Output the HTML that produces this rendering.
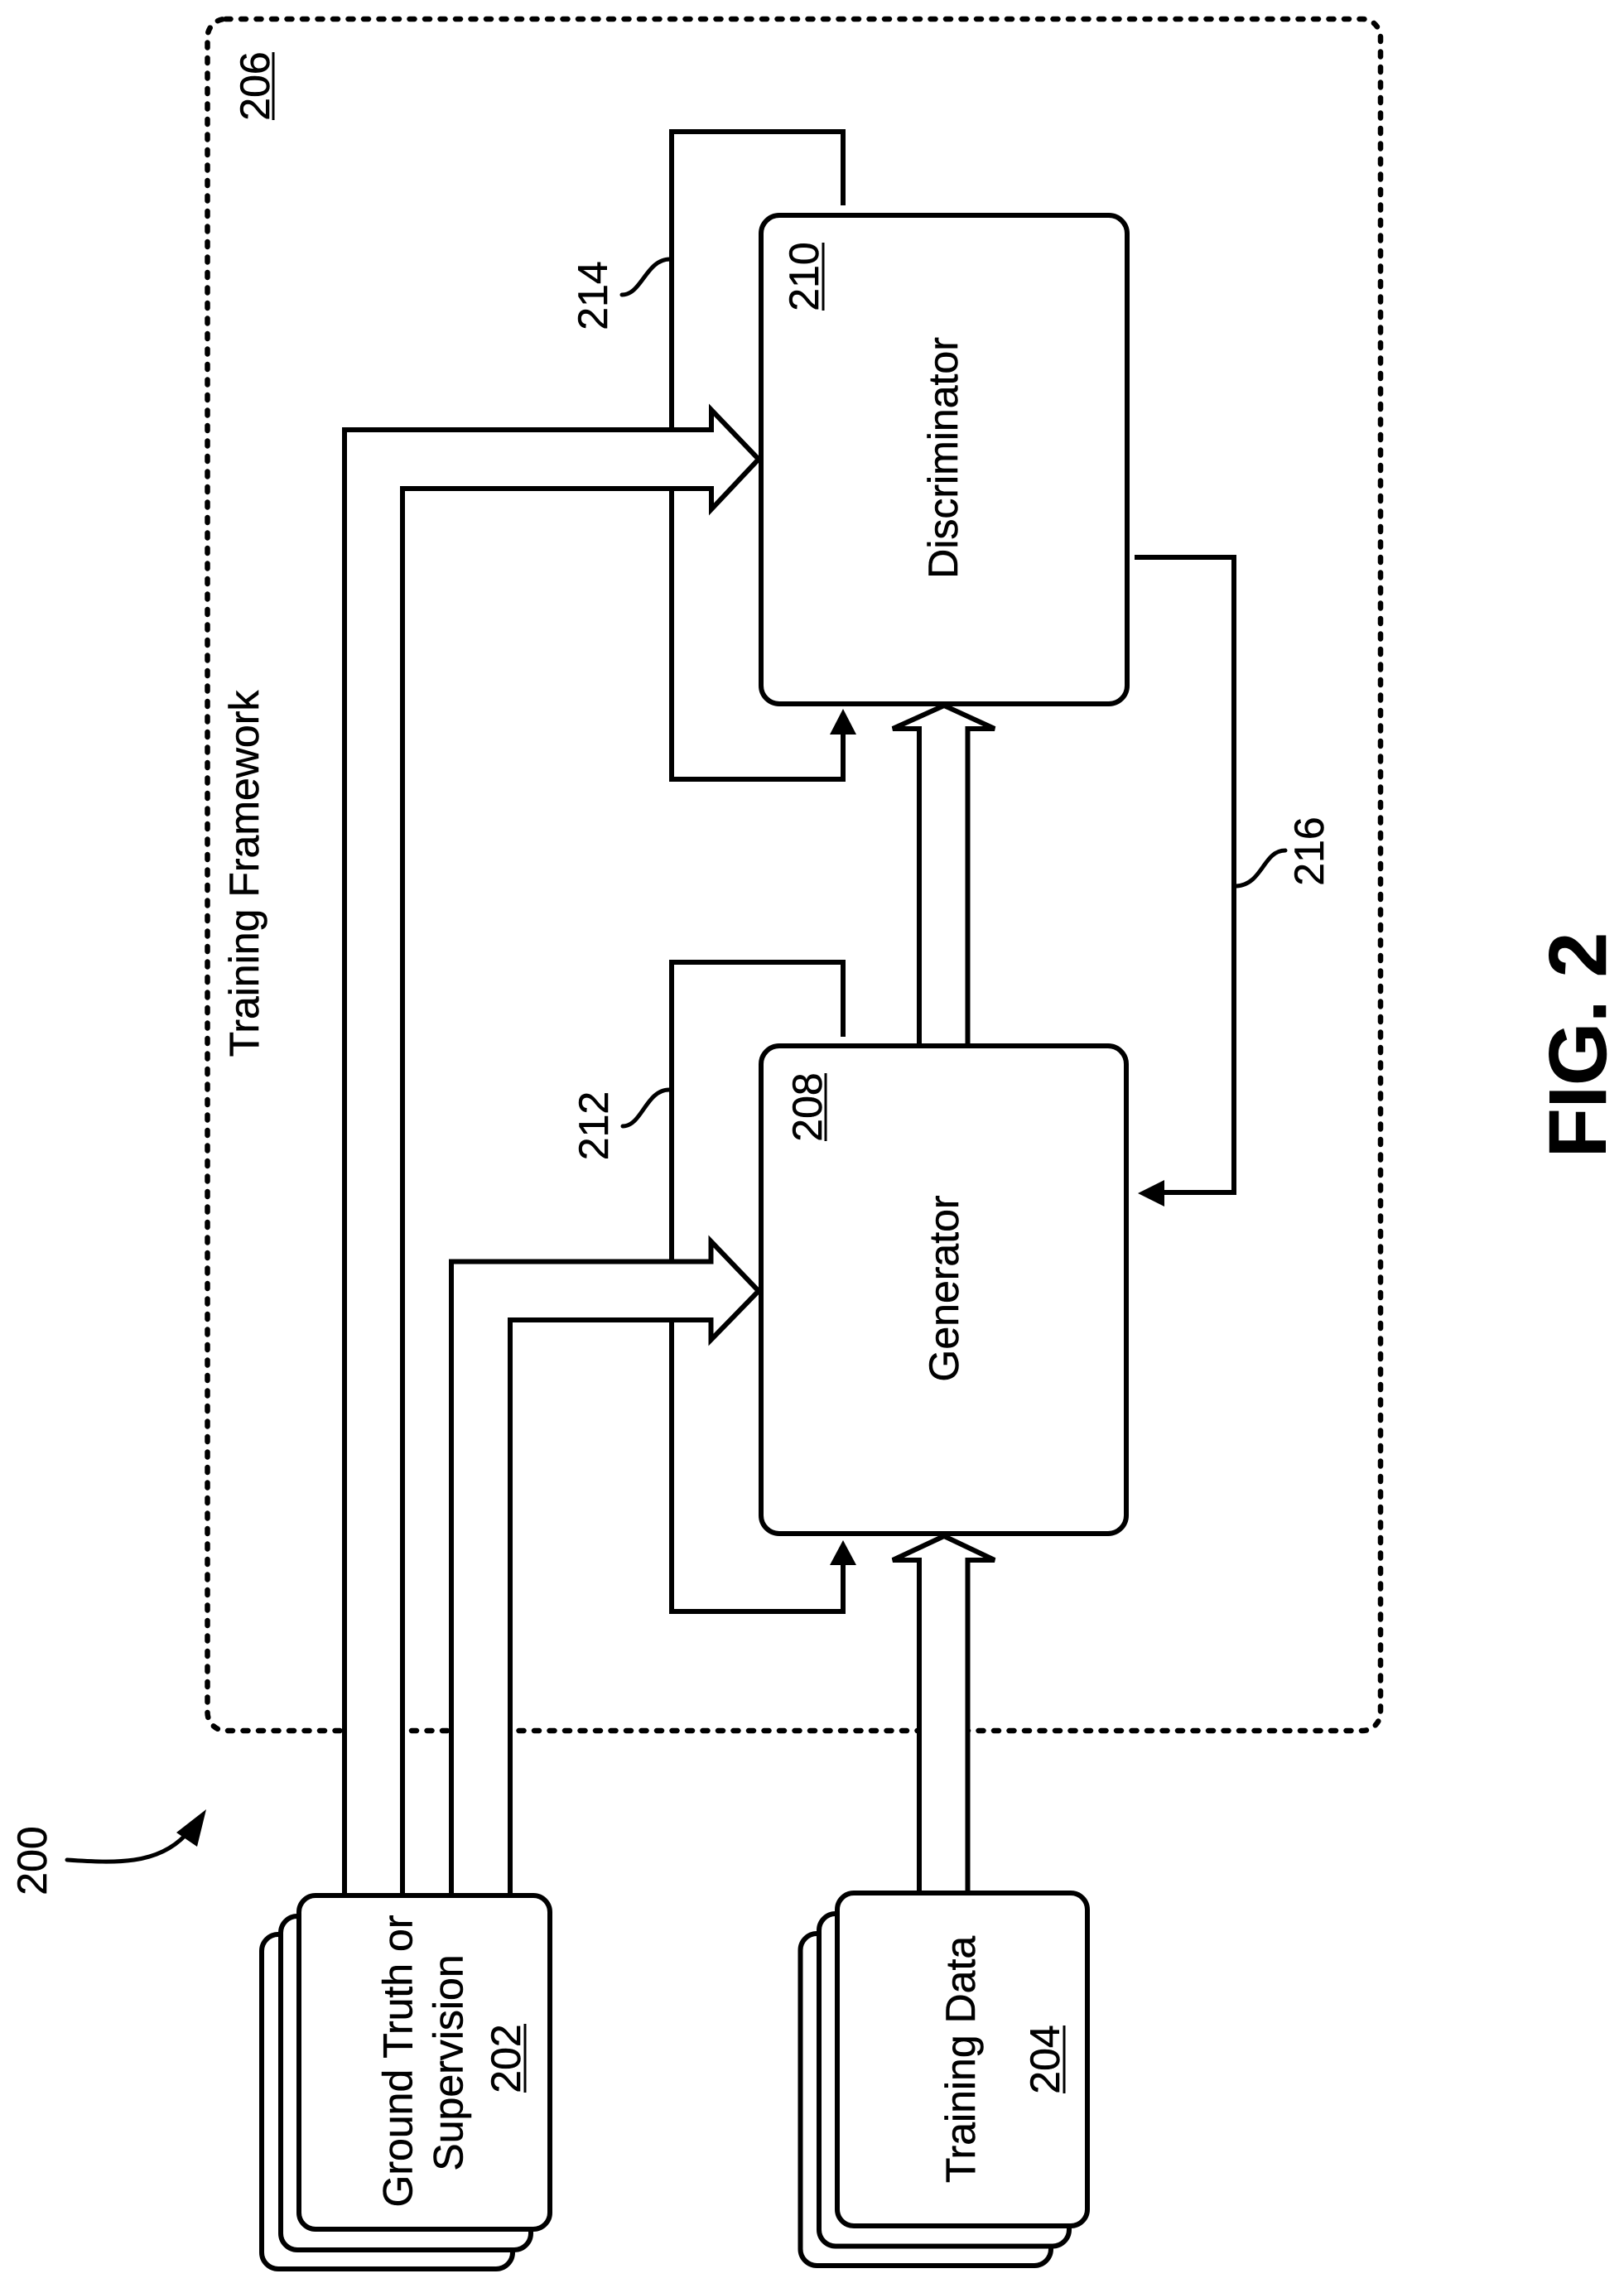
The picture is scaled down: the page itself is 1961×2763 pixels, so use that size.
<!DOCTYPE html>
<html>
<head>
<meta charset="utf-8">
<title>FIG. 2</title>
<style>
html,body{margin:0;padding:0;background:#fff;}
svg{display:block;}
text{font-family:"Liberation Sans",Arial,sans-serif;font-size:50px;fill:#000;stroke:#000;stroke-width:0.5;text-anchor:middle;}
.l{fill:none;stroke:#000;stroke-width:6;stroke-linejoin:miter;}
.a{fill:#fff;stroke:#000;stroke-width:6;stroke-linejoin:miter;}
.b{fill:#fff;stroke:#000;stroke-width:6;}
.u{stroke:#000;stroke-width:3;}
</style>
</head>
<body>
<svg width="1961" height="2763" viewBox="0 0 1961 2763" xmlns="http://www.w3.org/2000/svg">
<rect width="1961" height="2763" fill="#fff"/>

<!-- Training framework dashed container -->
<rect x="250.5" y="23" width="1416.5" height="2067" rx="22" ry="22" fill="none" stroke="#000" stroke-width="6.5" stroke-dasharray="6 12.5" stroke-linecap="round"/>

<!-- Feedback loops -->
<path class="l" d="M1018 248V159H811V941H1018V885"/>
<path class="l" d="M1018 1252V1162H811V1946H1018V1888"/>
<polygon points="1018,856 1002,887 1034,887" fill="#000"/>
<polygon points="1018,1860 1002,1890 1034,1890" fill="#000"/>

<!-- 216 connector -->
<path class="l" d="M1370 673H1490V1440H1404"/>
<polygon points="1374,1441 1406,1425 1406,1457" fill="#000"/>

<!-- Leaders -->
<path d="M751 356C775 356 780 313 809 313" fill="none" stroke="#000" stroke-width="5" stroke-linecap="round"/>
<path d="M752 1360C775 1360 780 1316 808 1316" fill="none" stroke="#000" stroke-width="5" stroke-linecap="round"/>
<path d="M1493 1070C1525 1068 1525 1027 1552 1027" fill="none" stroke="#000" stroke-width="5" stroke-linecap="round"/>
<path d="M81 2246C140 2250 190 2252 224 2216" fill="none" stroke="#000" stroke-width="5" stroke-linecap="round"/>
<polygon points="249,2185 213,2213 238,2230" fill="#000"/>

<!-- Wide arrows -->
<polygon class="a" points="416,2290 416,519 859,519 859,495 916,554.5 859,615 859,590 486,590 486,2290"/>
<polygon class="a" points="545,2290 545,1523.5 858.5,1523.5 858.5,1499 916,1559 858.5,1618 858.5,1594 616,1594 616,2290"/>
<polygon class="a" points="1110,1263 1110,880 1078,880 1140,852 1201,880 1168.5,880 1168.5,1263"/>
<polygon class="a" points="1110,2288 1110,1884 1078,1884 1140,1855 1201,1884 1168.5,1884 1168.5,2288"/>

<!-- Main boxes -->
<rect class="b" x="919" y="260" width="442" height="590" rx="22" ry="22"/>
<rect class="b" x="919" y="1263" width="441" height="589" rx="22" ry="22"/>

<!-- 202 stack -->
<rect class="b" x="316" y="2336" width="303" height="404" rx="20" ry="20"/>
<rect class="b" x="339" y="2314" width="302" height="403" rx="20" ry="20"/>
<rect class="b" x="361" y="2289" width="303" height="403" rx="20" ry="20"/>

<!-- 204 stack -->
<rect class="b" x="966.5" y="2335" width="302.5" height="401" rx="20" ry="20"/>
<rect class="b" x="989" y="2311" width="302" height="401.5" rx="20" ry="20"/>
<rect class="b" x="1011" y="2286" width="302" height="402" rx="20" ry="20"/>

<!-- Labels -->
<text transform="translate(312 1055) rotate(-90)">Training Framework</text>
<text transform="translate(325 104) rotate(-90)">206</text>
<line class="u" x1="330" y1="63" x2="330" y2="145"/>
<text transform="translate(733 357) rotate(-90)">214</text>
<text transform="translate(734 1359.5) rotate(-90)">212</text>
<text transform="translate(1598 1028) rotate(-90)">216</text>
<text transform="translate(988 334) rotate(-90)">210</text>
<line class="u" x1="994" y1="293" x2="994" y2="375"/>
<text transform="translate(992 1337) rotate(-90)">208</text>
<line class="u" x1="997" y1="1296" x2="997" y2="1378"/>
<text transform="translate(1156 553) rotate(-90)">Discriminator</text>
<text transform="translate(1157 1556) rotate(-90)">Generator</text>
<text transform="translate(497.5 2489) rotate(-90)">Ground Truth or</text>
<text transform="translate(558.5 2491) rotate(-90)">Supervision</text>
<text transform="translate(628 2486) rotate(-90)">202</text>
<line class="u" x1="634" y1="2444" x2="634" y2="2527"/>
<text transform="translate(1177 2487) rotate(-90)">Training Data</text>
<text transform="translate(1279 2487) rotate(-90)">204</text>
<line class="u" x1="1285" y1="2446" x2="1285" y2="2528"/>
<text transform="translate(56 2247) rotate(-90)">200</text>
<text transform="translate(1939 1262) rotate(-90)" style="font-size:98px;font-weight:bold">FIG. 2</text>
</svg>
</body>
</html>
